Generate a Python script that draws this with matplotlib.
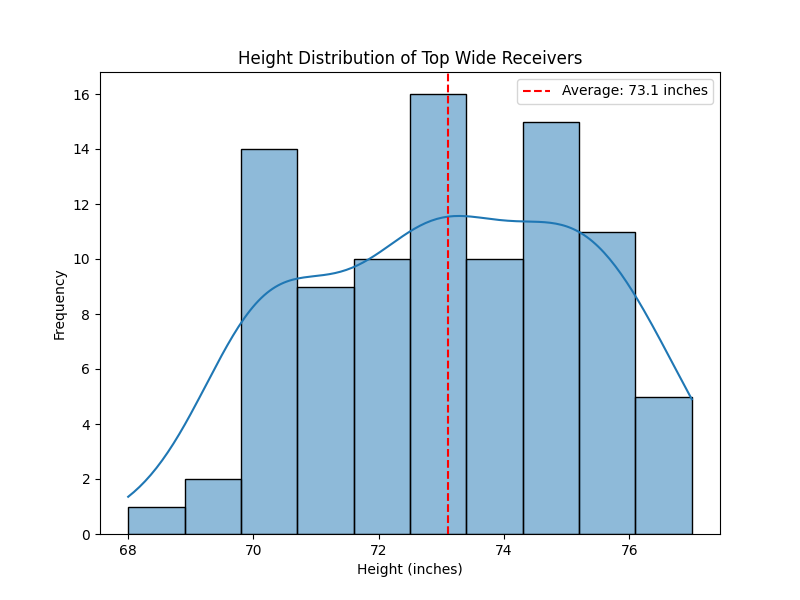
import numpy as np
import pandas as pd
import matplotlib
matplotlib.use("Agg")
import matplotlib.pyplot as plt
import seaborn as sns

heights = [68, 69, 70, 71, 72, 73, 74, 75, 76, 77]
counts = [1, 2, 14, 9, 10, 16, 10, 15, 11, 5]

data = pd.DataFrame({"Height": np.repeat(heights, counts)})
avg = data["Height"].mean()

fig, ax = plt.subplots(figsize=(8, 6), dpi=100)
sns.histplot(data["Height"], bins=10, kde=True, ax=ax)
ax.axvline(avg, color="red", linestyle="--", label=f"Average: {avg:.1f} inches")
ax.set_title("Height Distribution of Top Wide Receivers")
ax.set_xlabel("Height (inches)")
ax.set_ylabel("Frequency")
ax.legend()
fig.savefig("out.png")
